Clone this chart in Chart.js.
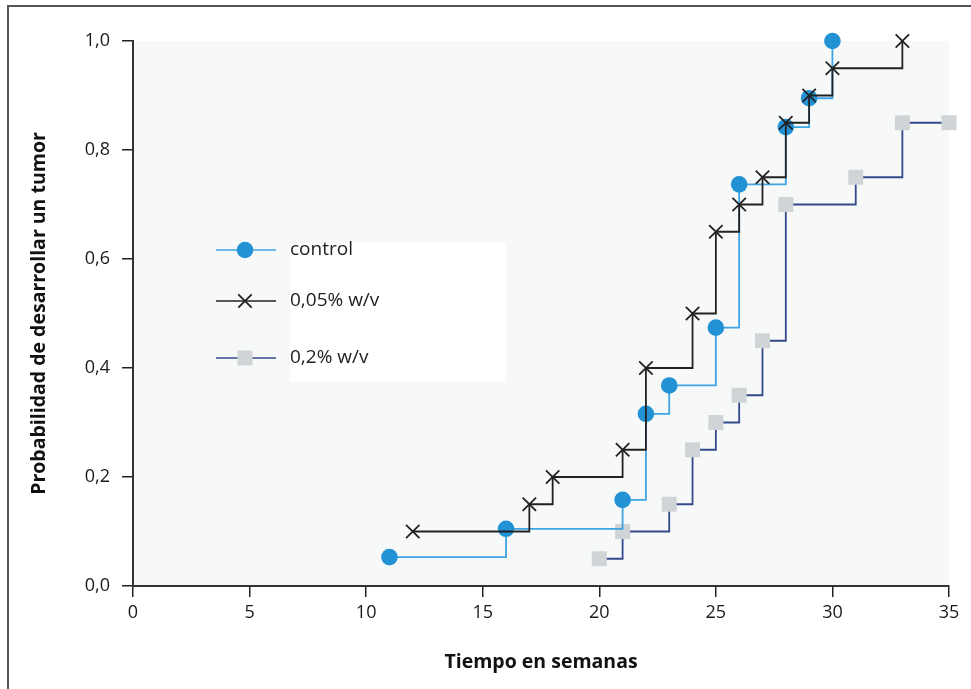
<!DOCTYPE html>
<html>
<head>
<meta charset="utf-8">
<script src="https://cdn.jsdelivr.net/npm/chart.js@4"></script>
<style>
  body { margin: 0; background: #fff; }
  #wrap { position: relative; width: 971px; height: 689px; }
  #frame { position: absolute; left: 7px; top: 5px; right: 0; bottom: 0;
           border-left: 2px solid #555; border-top: 2px solid #555; pointer-events: none; }
</style>
</head>
<body>
<div id="wrap">
  <canvas id="chart" width="971" height="689"></canvas>
  <div id="frame"></div>
</div>
<script>
// datos
const labels = ["control", "0,05% w/v", "0,2% w/v"];
const controlX = [11, 16, 21, 22, 23, 25, 26, 28, 29, 30];
const controlY = [0.053, 0.105, 0.158, 0.316, 0.368, 0.474, 0.737, 0.842, 0.895, 1.0];
const lowX = [12, 17, 18, 21, 22, 24, 25, 26, 27, 28, 29, 30, 33];
const lowY = [0.10, 0.15, 0.20, 0.25, 0.40, 0.50, 0.65, 0.70, 0.75, 0.85, 0.90, 0.95, 1.0];
const highX = [20, 21, 23, 24, 25, 26, 27, 28, 31, 33, 35];
const highY = [0.05, 0.10, 0.15, 0.25, 0.30, 0.35, 0.45, 0.70, 0.75, 0.85, 0.85];
const xTicks = [0, 5, 10, 15, 20, 25, 30, 35];
const yTicks = [0, 0.2, 0.4, 0.6, 0.8, 1.0];

const FONT = "'Open Sans', 'Noto Sans', sans-serif";

const toPoints = (xs, ys) => xs.map((x, i) => ({ x: x, y: ys[i] }));

// fondo gris del area
const bgPlugin = {
  id: 'bg',
  beforeDraw(chart) {
    const a = chart.chartArea;
    const ctx = chart.ctx;
    ctx.save();
    ctx.fillStyle = '#f7f9f9';
    ctx.fillRect(a.left, a.top, a.right - a.left, a.bottom - a.top);
    ctx.restore();
  }
};

// leyenda dentro del grafico
const legendPlugin = {
  id: 'customLegend',
  afterDraw(chart) {
    const ctx = chart.ctx;
    ctx.save();
    ctx.fillStyle = '#ffffff';
    ctx.fillRect(290, 243, 216, 139);
    const rows = [250, 301, 358];
    chart.data.datasets.forEach((ds, i) => {
      const y = rows[i];
      ctx.strokeStyle = ds.borderColor;
      ctx.lineWidth = 1.5;
      ctx.beginPath();
      ctx.moveTo(216, y);
      ctx.lineTo(276, y);
      ctx.stroke();
      ctx.fillStyle = ds.pointBackgroundColor;
      ctx.strokeStyle = ds.pointBorderColor;
      ctx.lineWidth = ds.pointBorderWidth;
      Chart.helpers.drawPoint(ctx, {
        pointStyle: ds.pointStyle,
        radius: ds.pointRadius,
        borderWidth: ds.pointBorderWidth
      }, 245, y);
      ctx.fillStyle = '#222';
      ctx.font = '19px ' + FONT;
      ctx.textAlign = 'left';
      ctx.textBaseline = 'middle';
      ctx.fillText(labels[i], 290, y);
    });
    ctx.restore();
  }
};

const ctx = document.getElementById('chart').getContext('2d');
new Chart(ctx, {
  type: 'scatter',
  data: {
    datasets: [
      {
        label: labels[0],
        data: toPoints(controlX, controlY),
        showLine: true,
        stepped: true,
        borderColor: '#3ea4e2',
        borderWidth: 1.8,
        pointStyle: 'circle',
        pointRadius: 8.3,
        pointBackgroundColor: '#2292d4',
        pointBorderColor: '#2292d4',
        pointBorderWidth: 0,
        order: 2,
        clip: false
      },
      {
        label: labels[1],
        data: toPoints(lowX, lowY),
        showLine: true,
        stepped: true,
        borderColor: '#222222',
        borderWidth: 1.8,
        pointStyle: 'crossRot',
        pointRadius: 9.5,
        pointBackgroundColor: '#222222',
        pointBorderColor: '#222222',
        pointBorderWidth: 1.8,
        order: 1,
        clip: false
      },
      {
        label: labels[2],
        data: toPoints(highX, highY),
        showLine: true,
        stepped: true,
        borderColor: '#33498b',
        borderWidth: 1.8,
        pointStyle: 'rect',
        pointRadius: 10.6,
        pointBackgroundColor: '#d0d4d7',
        pointBorderColor: '#d0d4d7',
        pointBorderWidth: 0,
        order: 3,
        clip: false
      }
    ]
  },
  options: {
    responsive: false,
    animation: false,
    events: [],
    layout: { padding: { left: 0, top: 41, right: 22, bottom: 0 } },
    plugins: {
      legend: { display: false },
      tooltip: { enabled: false }
    },
    scales: {
      x: {
        type: 'linear',
        min: 0,
        max: 35,
        afterFit: (scale) => { scale.height = 103; },
        afterBuildTicks: (scale) => { scale.ticks = xTicks.map(v => ({ value: v })); },
        grid: { drawOnChartArea: false, tickLength: 11, color: '#222', lineWidth: 1.5 },
        border: { color: '#333', width: 2 },
        ticks: { color: '#1a1a1a', padding: 5, font: { family: FONT, size: 18 } },
        title: {
          display: true,
          text: 'Tiempo en semanas',
          color: '#111',
          font: { family: FONT, size: 19.5, weight: 'bold' },
          padding: { top: 0, bottom: 15 }
        }
      },
      y: {
        type: 'linear',
        min: 0,
        max: 1,
        afterFit: (scale) => { scale.width = 133; },
        afterBuildTicks: (scale) => { scale.ticks = yTicks.map(v => ({ value: v })); },
        grid: { drawOnChartArea: false, tickLength: 11, color: '#222', lineWidth: 1.5 },
        border: { color: '#333', width: 2 },
        ticks: {
          color: '#1a1a1a',
          padding: 12,
          font: { family: FONT, size: 18 },
          callback: (v) => v.toFixed(1).replace('.', ',')
        },
        title: {
          display: true,
          text: 'Probabilidad de desarrollar un tumor',
          color: '#111',
          font: { family: FONT, size: 19.5, weight: 'bold' },
          padding: { top: 28, bottom: 0 }
        }
      }
    }
  },
  plugins: [bgPlugin, legendPlugin]
});
</script>
</body>
</html>
